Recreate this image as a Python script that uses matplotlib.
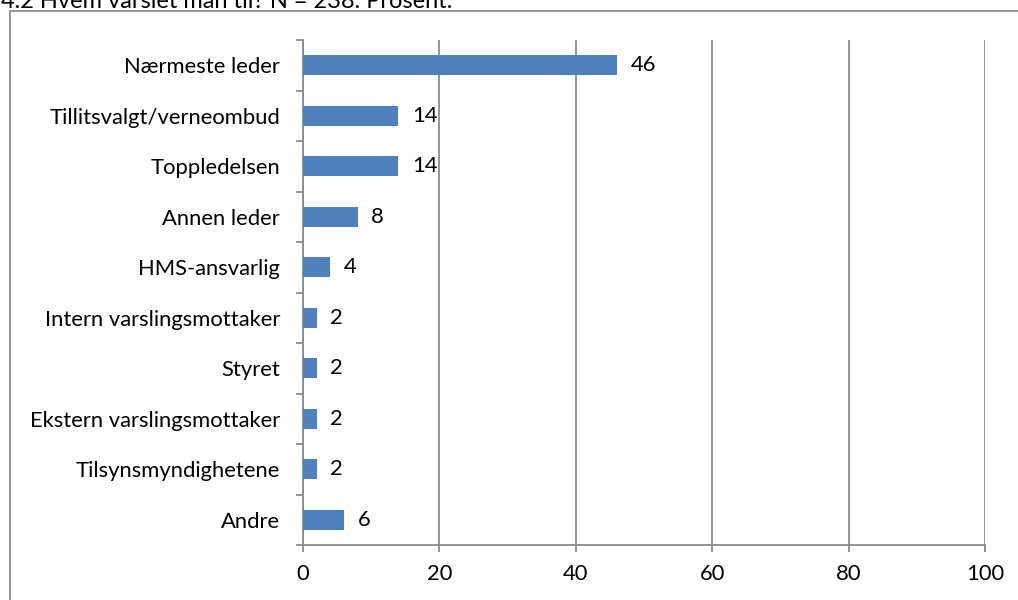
import matplotlib.pyplot as plt
from matplotlib.patches import Rectangle

plt.rcParams['font.family'] = ['Lato', 'DejaVu Sans']

categories = ['Nærmeste leder', 'Tillitsvalgt/verneombud', 'Toppledelsen', 'Annen leder',
              'HMS-ansvarlig', 'Intern varslingsmottaker', 'Styret',
              'Ekstern varslingsmottaker', 'Tilsynsmyndighetene', 'Andre']
values = [46, 14, 14, 8, 4, 2, 2, 2, 2, 6]
x_ticks = [0, 20, 40, 60, 80, 100]
title = '4.2 Hvem varslet man til? N = 238. Prosent.'

W, H = 1018, 600
fs = 15.8
fig = plt.figure(figsize=(W / 100, H / 100), dpi=100)

# outer chart frame, runs off the right and bottom edges
fig.patches.append(Rectangle((10 / W, -0.1), 1.1, 1 - 11 / H + 0.1, transform=fig.transFigure,
                             fill=False, edgecolor='#8c8c8c', linewidth=1.3))
fig.text(1 / W, 1 - 1 / H, title, fontsize=17, va='center', ha='left')

ax = fig.add_axes([303 / W, 1 - 545 / H, (985 - 303) / W, (545 - 40) / H])
gray = '#8c8c8c'
n = len(categories)
pos = list(range(n))[::-1]
ax.barh(pos, values, height=0.4, color='#4f81bd', zorder=3)
for p, v in zip(pos, values):
    ax.text(v + 2, p, str(v), va='center', ha='left', fontsize=fs, zorder=4)

ax.set_xlim(0, 100)
ax.set_ylim(-0.5, n - 0.5)
ax.set_xticks(x_ticks)
ax.set_xticklabels([str(t) for t in x_ticks], fontsize=fs)
ax.set_yticks(pos)
ax.set_yticklabels(categories, fontsize=fs)
ax.tick_params(axis='y', length=0, pad=16.5)
ax.tick_params(axis='x', length=5, color=gray, width=1.3, pad=9)
ax.set_yticks([i - 0.5 for i in range(n + 1)], minor=True)
ax.tick_params(axis='y', which='minor', length=5, color=gray, width=1.3)
ax.grid(axis='x', color=gray, linewidth=1.3, zorder=0)
for s in ['top', 'right']:
    ax.spines[s].set_visible(False)
for s in ['left', 'bottom']:
    ax.spines[s].set_color(gray)
    ax.spines[s].set_linewidth(1.3)

fig.savefig('out.png', dpi=100)
